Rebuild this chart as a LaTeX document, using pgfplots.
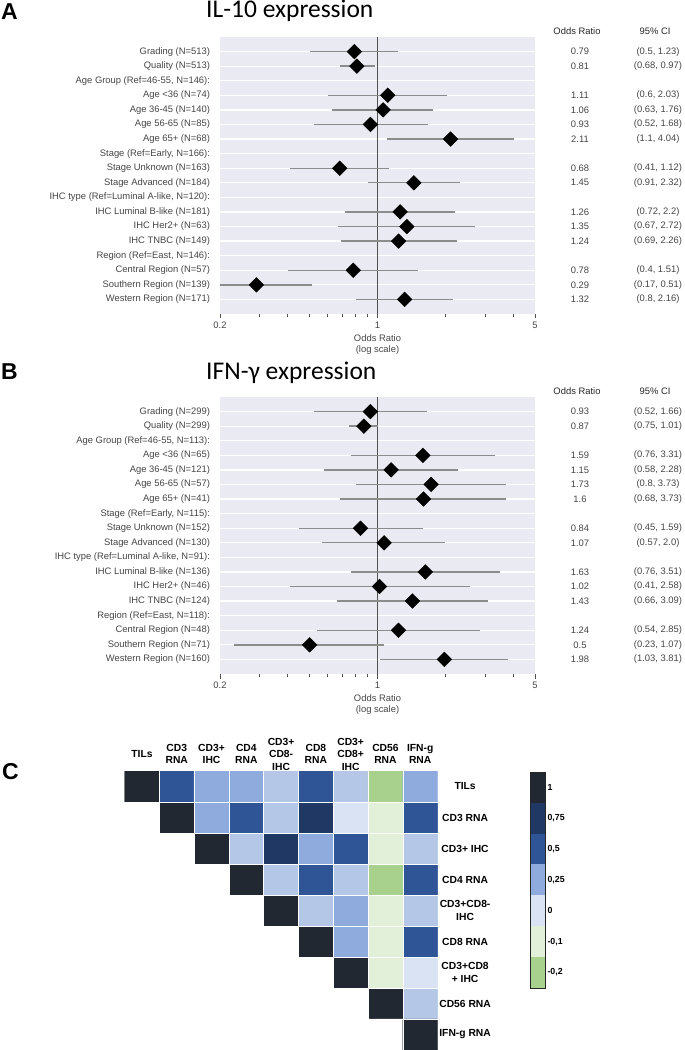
\documentclass[border=0pt]{standalone}
\usepackage{pgfplots}
\pgfplotsset{compat=1.18}
\usepackage{pgfplotstable}
\usepackage{fontspec}
\setmainfont{Liberation Sans}
\newfontfamily\titlefont{Carlito}
\definecolor{bgc}{HTML}{EAEAF2}
\definecolor{labc}{HTML}{454545}
\definecolor{cic}{HTML}{8C8C8C}
\definecolor{vlc}{HTML}{505050}
\newcommand\lab{\fontsize{9.4}{11}\selectfont}
\newcommand\hml{\bfseries\fontsize{10.3}{12.5}\selectfont}
\newcommand\pnl{\bfseries\fontsize{23}{26}\selectfont}
\newcommand\ttl{\titlefont\fontsize{25.5}{30}\selectfont}

\pgfplotstableread{
row label or citxt
0 {Grading (N=513)} 0.79 {(0.5, 1.23)}
1 {Quality (N=513)} 0.81 {(0.68, 0.97)}
2 {Age Group (Ref=46-55, N=146):} nan {}
3 {Age <36 (N=74)} 1.11 {(0.6, 2.03)}
4 {Age 36-45 (N=140)} 1.06 {(0.63, 1.76)}
5 {Age 56-65 (N=85)} 0.93 {(0.52, 1.68)}
6 {Age 65+ (N=68)} 2.11 {(1.1, 4.04)}
7 {Stage (Ref=Early, N=166):} nan {}
8 {Stage Unknown (N=163)} 0.68 {(0.41, 1.12)}
9 {Stage Advanced (N=184)} 1.45 {(0.91, 2.32)}
10 {IHC type (Ref=Luminal A-like, N=120):} nan {}
11 {IHC Luminal B-like (N=181)} 1.26 {(0.72, 2.2)}
12 {IHC Her2+ (N=63)} 1.35 {(0.67, 2.72)}
13 {IHC TNBC (N=149)} 1.24 {(0.69, 2.26)}
14 {Region (Ref=East, N=146):} nan {}
15 {Central Region (N=57)} 0.78 {(0.4, 1.51)}
16 {Southern Region (N=139)} 0.29 {(0.17, 0.51)}
17 {Western Region (N=171)} 1.32 {(0.8, 2.16)}
}\tabA

\pgfplotstableread{
x y
0.5 0
1.23 0
nan nan
0.68 1
0.97 1
nan nan
0.6 3
2.03 3
nan nan
0.63 4
1.76 4
nan nan
0.52 5
1.68 5
nan nan
1.1 6
4.04 6
nan nan
0.41 8
1.12 8
nan nan
0.91 9
2.32 9
nan nan
0.72 11
2.2 11
nan nan
0.67 12
2.72 12
nan nan
0.69 13
2.26 13
nan nan
0.4 15
1.51 15
nan nan
0.17 16
0.51 16
nan nan
0.8 17
2.16 17
}\ciA

\pgfplotstableread{
row label or citxt
0 {Grading (N=299)} 0.93 {(0.52, 1.66)}
1 {Quality (N=299)} 0.87 {(0.75, 1.01)}
2 {Age Group (Ref=46-55, N=113):} nan {}
3 {Age <36 (N=65)} 1.59 {(0.76, 3.31)}
4 {Age 36-45 (N=121)} 1.15 {(0.58, 2.28)}
5 {Age 56-65 (N=57)} 1.73 {(0.8, 3.73)}
6 {Age 65+ (N=41)} 1.6 {(0.68, 3.73)}
7 {Stage (Ref=Early, N=115):} nan {}
8 {Stage Unknown (N=152)} 0.84 {(0.45, 1.59)}
9 {Stage Advanced (N=130)} 1.07 {(0.57, 2.0)}
10 {IHC type (Ref=Luminal A-like, N=91):} nan {}
11 {IHC Luminal B-like (N=136)} 1.63 {(0.76, 3.51)}
12 {IHC Her2+ (N=46)} 1.02 {(0.41, 2.58)}
13 {IHC TNBC (N=124)} 1.43 {(0.66, 3.09)}
14 {Region (Ref=East, N=118):} nan {}
15 {Central Region (N=48)} 1.24 {(0.54, 2.85)}
16 {Southern Region (N=71)} 0.5 {(0.23, 1.07)}
17 {Western Region (N=160)} 1.98 {(1.03, 3.81)}
}\tabB

\pgfplotstableread{
x y
0.52 0
1.66 0
nan nan
0.75 1
1.01 1
nan nan
0.76 3
3.31 3
nan nan
0.58 4
2.28 4
nan nan
0.8 5
3.73 5
nan nan
0.68 6
3.73 6
nan nan
0.45 8
1.59 8
nan nan
0.57 9
2.0 9
nan nan
0.76 11
3.51 11
nan nan
0.41 12
2.58 12
nan nan
0.66 13
3.09 13
nan nan
0.54 15
2.85 15
nan nan
0.23 16
1.07 16
nan nan
1.03 17
3.81 17
}\ciB

\pgfplotstableread{
x y c
0 0 0
1 0 2
2 0 3
3 0 3
4 0 4
5 0 2
6 0 4
7 0 7
8 0 3
0 1 8
1 1 0
2 1 3
3 1 2
4 1 4
5 1 1
6 1 5
7 1 6
8 1 2
0 2 8
1 2 8
2 2 0
3 2 4
4 2 1
5 2 3
6 2 2
7 2 6
8 2 4
0 3 8
1 3 8
2 3 8
3 3 0
4 3 4
5 3 2
6 3 4
7 3 7
8 3 2
0 4 8
1 4 8
2 4 8
3 4 8
4 4 0
5 4 4
6 4 3
7 4 6
8 4 4
0 5 8
1 5 8
2 5 8
3 5 8
4 5 8
5 5 0
6 5 3
7 5 6
8 5 2
0 6 8
1 6 8
2 6 8
3 6 8
4 6 8
5 6 8
6 6 0
7 6 6
8 6 5
0 7 8
1 7 8
2 7 8
3 7 8
4 7 8
5 7 8
6 7 8
7 7 0
8 7 4
0 8 8
1 8 8
2 8 8
3 8 8
4 8 8
5 8 8
6 8 8
7 8 8
8 8 0
}\heat

\pgfplotstableread{
x y c
0 0 0
1 0 0
0 1 1
1 1 1
0 2 2
1 2 2
0 3 3
1 3 3
0 4 5
1 4 5
0 5 6
1 5 6
0 6 7
1 6 7
}\cbar

\pgfplotsset{
  fpaxis/.style={
    scale only axis, width=315pt, height=277pt, anchor=north west,
    xmin=0.2, xmax=5, ymin=-1, ymax=18, y dir=reverse,
    axis background/.style={fill=bgc},
    axis line style={draw=none},
    xtick={0.2,1,5}, xticklabels={0.2,1,5},
    minor xtick={0.3,0.4,0.5,0.6,0.7,0.8,0.9,2,3,4},
    tick align=outside, xtick pos=bottom,
    major tick length=4.5pt, minor tick length=3pt,
    every tick/.style={draw=vlc, line width=0.8pt},
    ytick={0,...,17}, ytick style={draw=none},
    ymajorgrids, major grid style={white, line width=1.3pt},
    yticklabel style={font=\lab, text=labc, xshift=-2pt},
    xticklabel style={font=\lab, text=labc},
    xlabel={Odds Ratio\\(log scale)},
    xlabel style={font=\lab, text=labc, align=center, at={(axis description cs:0.5,-0.062)}, anchor=north},
  },
  fptab/.style={
    scale only axis, width=145pt, height=277pt, anchor=north west,
    xmin=540, xmax=685, ymin=-1, ymax=18, y dir=reverse, hide axis, clip=false,
  },
  fptxt/.style={draw=none, mark=none, nodes near coords, point meta=explicit symbolic,
    every node near coord/.append style={anchor=center, inner sep=0pt, font=\lab, text=labc}},
  hmcolors/.style={
    colormap={hm}{rgb255=(34,40,49) rgb255=(31,56,100) rgb255=(47,85,151)
      rgb255=(143,170,220) rgb255=(180,199,231) rgb255=(218,227,243)
      rgb255=(226,240,217) rgb255=(169,209,142) rgb255=(255,255,255)},
    colormap access=direct,
  },
}

\begin{document}
\begin{tikzpicture}
\path[use as bounding box] (0,0) rectangle (685pt,1050pt);

% ---------- Panel A ----------
\node[anchor=base west, font=\pnl, inner sep=0pt] at (1pt,1030pt) {A};
\node[anchor=base west, font=\ttl, inner sep=0pt] at (206pt,1032pt) {IL-10 expression};

\begin{semilogxaxis}[fpaxis, at={(220pt,1013pt)}, yticklabels from table={\tabA}{label}]
  \addplot[vlc, line width=0.9pt, forget plot] coordinates {(1,-1) (1,18)};
  \addplot[cic, line width=1.4pt, unbounded coords=jump] table[x=x, y=y] {\ciA};
  \addplot[only marks, mark=square*, mark size=5.2pt, mark options={rotate=45, fill=black, draw=black}] table[x=or, y=row] {\tabA};
\end{semilogxaxis}
\begin{axis}[fptab, at={(540pt,1013pt)}]
  \addplot[fptxt] table[x expr={\thisrow{or}*0+580}, y=row, meta=or] {\tabA};
  \addplot[fptxt] table[x expr={\thisrow{or}*0+658}, y=row, meta=citxt] {\tabA};
  \node[font=\lab, text=black!85] at (axis cs:577,-1.4) {Odds Ratio};
  \node[font=\lab, text=black!85] at (axis cs:655,-1.4) {95\% CI};
\end{axis}

% ---------- Panel B ----------
\node[anchor=base west, font=\pnl, inner sep=0pt] at (1pt,670pt) {B};
\node[anchor=base west, font=\ttl, inner sep=0pt] at (206pt,670pt) {IFN-γ expression};

\begin{semilogxaxis}[fpaxis, at={(220pt,653pt)}, yticklabels from table={\tabB}{label}]
  \addplot[vlc, line width=0.9pt, forget plot] coordinates {(1,-1) (1,18)};
  \addplot[cic, line width=1.4pt, unbounded coords=jump] table[x=x, y=y] {\ciB};
  \addplot[only marks, mark=square*, mark size=5.2pt, mark options={rotate=45, fill=black, draw=black}] table[x=or, y=row] {\tabB};
\end{semilogxaxis}
\begin{axis}[fptab, at={(540pt,653pt)}]
  \addplot[fptxt] table[x expr={\thisrow{or}*0+580}, y=row, meta=or] {\tabB};
  \addplot[fptxt] table[x expr={\thisrow{or}*0+658}, y=row, meta=citxt] {\tabB};
  \node[font=\lab, text=black!85] at (axis cs:577,-1.4) {Odds Ratio};
  \node[font=\lab, text=black!85] at (axis cs:655,-1.4) {95\% CI};
\end{axis}

% ---------- Panel C ----------
\node[anchor=base west, font=\pnl, inner sep=0pt] at (2pt,270pt) {C};

\begin{axis}[
  hmcolors,
  scale only axis, width=313pt, height=279pt, anchor=south west, at={(124.6pt,0pt)},
  xmin=-0.5, xmax=8.5, ymin=-0.5, ymax=8.5, y dir=reverse,
  axis line style={draw=none}, major tick length=0pt, minor tick length=0pt,
  tick style={draw=none},
  xtick={0,...,8}, ytick={0,...,8},
  xticklabel pos=upper, yticklabel pos=right,
  xticklabels={TILs,{CD3\\RNA},{CD3+\\IHC},{CD4\\RNA},{CD3+\\CD8-\\IHC},{CD8\\RNA},{CD3+\\CD8+\\IHC},{CD56\\RNA},{IFN-g\\RNA}},
  yticklabels={TILs,{CD3 RNA},{CD3+ IHC},{CD4 RNA},{CD3+CD8-\\IHC},{CD8 RNA},{CD3+CD8\\+ IHC},{CD56 RNA},{IFN-g RNA}},
  xticklabel style={font=\hml, align=center, anchor=center, yshift=17pt},
  yticklabel style={font=\hml, align=center, anchor=center, xshift=27.5pt},
  minor xtick={0.5,1.5,...,7.5}, minor ytick={0.5,1.5,...,7.5},
  xminorgrids, yminorgrids, minor grid style={white, line width=0.6pt},
  axis on top,
]
  \addplot[matrix plot*, mesh/cols=9, point meta=explicit] table[x=x, y=y, meta=c] {\heat};
\end{axis}

\begin{axis}[
  hmcolors,
  scale only axis, width=15pt, height=216pt, anchor=south west, at={(530pt,62pt)},
  xmin=-0.5, xmax=0.5, ymin=-0.5, ymax=6.5, y dir=reverse,
  xtick=\empty, ytick={0,...,6}, major tick length=0pt,
  yticklabel pos=right,
  yticklabels={1,{0,75},{0,5},{0,25},0,{-0,1},{-0,2}},
  yticklabel style={font=\bfseries\fontsize{8.8}{10}\selectfont, anchor=west, xshift=-1pt},
  axis line style={draw=black!85, line width=0.8pt},
  axis on top,
]
  \addplot[matrix plot*, mesh/cols=2, point meta=explicit] table[x=x, y=y, meta=c] {\cbar};
\end{axis}
\end{tikzpicture}
\end{document}
